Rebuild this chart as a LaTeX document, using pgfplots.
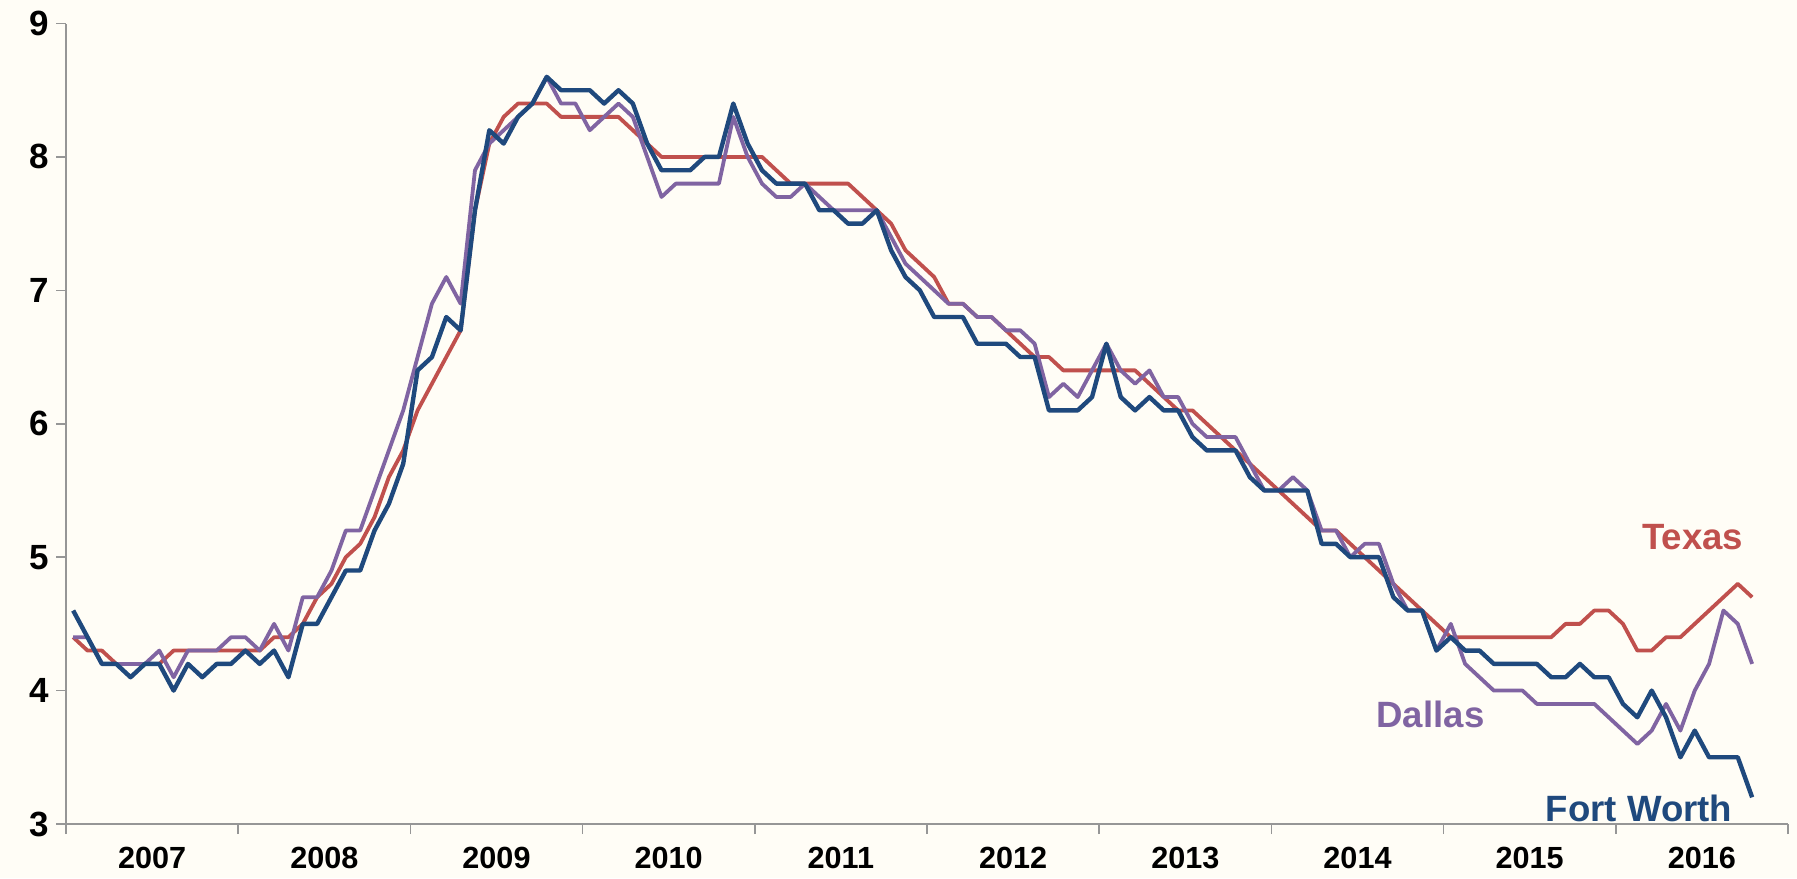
\documentclass[border=0pt]{standalone}
\usepackage{fontspec}
\setmainfont{Liberation Sans}
\usepackage{pgfplots}
\usepackage{pgfplotstable}
\pgfplotsset{compat=1.18}

\definecolor{bgc}{RGB}{255,253,246}
\definecolor{txred}{RGB}{192,80,77}
\definecolor{dapurple}{RGB}{128,100,162}
\definecolor{fwblue}{RGB}{31,73,125}
\definecolor{axisgray}{RGB}{150,150,150}

% monthly unemployment rate, Jan 2007 (m=0) to Oct 2016
\pgfplotstableread{
m tx da fw
0 4.4 4.4 4.6
1 4.3 4.4 4.4
2 4.3 4.2 4.2
3 4.2 4.2 4.2
4 4.2 4.2 4.1
5 4.2 4.2 4.2
6 4.2 4.3 4.2
7 4.3 4.1 4.0
8 4.3 4.3 4.2
9 4.3 4.3 4.1
10 4.3 4.3 4.2
11 4.3 4.4 4.2
12 4.3 4.4 4.3
13 4.3 4.3 4.2
14 4.4 4.5 4.3
15 4.4 4.3 4.1
16 4.5 4.7 4.5
17 4.7 4.7 4.5
18 4.8 4.9 4.7
19 5.0 5.2 4.9
20 5.1 5.2 4.9
21 5.3 5.5 5.2
22 5.6 5.8 5.4
23 5.8 6.1 5.7
24 6.1 6.5 6.4
25 6.3 6.9 6.5
26 6.5 7.1 6.8
27 6.7 6.9 6.7
28 7.6 7.9 7.6
29 8.1 8.1 8.2
30 8.3 8.2 8.1
31 8.4 8.3 8.3
32 8.4 8.4 8.4
33 8.4 8.6 8.6
34 8.3 8.4 8.5
35 8.3 8.4 8.5
36 8.3 8.2 8.5
37 8.3 8.3 8.4
38 8.3 8.4 8.5
39 8.2 8.3 8.4
40 8.1 8.0 8.1
41 8.0 7.7 7.9
42 8.0 7.8 7.9
43 8.0 7.8 7.9
44 8.0 7.8 8.0
45 8.0 7.8 8.0
46 8.0 8.3 8.4
47 8.0 8.0 8.1
48 8.0 7.8 7.9
49 7.9 7.7 7.8
50 7.8 7.7 7.8
51 7.8 7.8 7.8
52 7.8 7.7 7.6
53 7.8 7.6 7.6
54 7.8 7.6 7.5
55 7.7 7.6 7.5
56 7.6 7.6 7.6
57 7.5 7.4 7.3
58 7.3 7.2 7.1
59 7.2 7.1 7.0
60 7.1 7.0 6.8
61 6.9 6.9 6.8
62 6.9 6.9 6.8
63 6.8 6.8 6.6
64 6.8 6.8 6.6
65 6.7 6.7 6.6
66 6.6 6.7 6.5
67 6.5 6.6 6.5
68 6.5 6.2 6.1
69 6.4 6.3 6.1
70 6.4 6.2 6.1
71 6.4 6.4 6.2
72 6.4 6.6 6.6
73 6.4 6.4 6.2
74 6.4 6.3 6.1
75 6.3 6.4 6.2
76 6.2 6.2 6.1
77 6.1 6.2 6.1
78 6.1 6.0 5.9
79 6.0 5.9 5.8
80 5.9 5.9 5.8
81 5.8 5.9 5.8
82 5.7 5.7 5.6
83 5.6 5.5 5.5
84 5.5 5.5 5.5
85 5.4 5.6 5.5
86 5.3 5.5 5.5
87 5.2 5.2 5.1
88 5.2 5.2 5.1
89 5.1 5.0 5.0
90 5.0 5.1 5.0
91 4.9 5.1 5.0
92 4.8 4.8 4.7
93 4.7 4.6 4.6
94 4.6 4.6 4.6
95 4.5 4.3 4.3
96 4.4 4.5 4.4
97 4.4 4.2 4.3
98 4.4 4.1 4.3
99 4.4 4.0 4.2
100 4.4 4.0 4.2
101 4.4 4.0 4.2
102 4.4 3.9 4.2
103 4.4 3.9 4.1
104 4.5 3.9 4.1
105 4.5 3.9 4.2
106 4.6 3.9 4.1
107 4.6 3.8 4.1
108 4.5 3.7 3.9
109 4.3 3.6 3.8
110 4.3 3.7 4.0
111 4.4 3.9 3.8
112 4.4 3.7 3.5
113 4.5 4.0 3.7
114 4.6 4.2 3.5
115 4.7 4.6 3.5
116 4.8 4.5 3.5
117 4.7 4.2 3.2
}\rates

\begin{document}
\begin{tikzpicture}
% page background
\fill[bgc] (-33pt,-27pt) rectangle (865.5pt,412pt);
\begin{axis}[
    scale only axis,
    width=861pt, height=400.25pt,
    xmin=0, xmax=120, ymin=3, ymax=9,
    axis x line*=bottom, axis y line*=left,
    axis line style={-, draw=axisgray, line width=0.8pt},
    xtick={0,12,...,120},
    x tick label as interval,
    xticklabels={2007,2008,2009,2010,2011,2012,2013,2014,2015,2016},
    ytick={3,4,5,6,7,8,9},
    tick align=outside,
    major tick length=5pt,
    tick style={draw=axisgray, line width=0.8pt},
    /pgf/number format/assume math mode=true,
    yticklabel style={font=\fontsize{17.5}{20}\selectfont\bfseries},
    xticklabel style={font=\fontsize{15.3}{18}\selectfont\bfseries, yshift=-3pt},
    clip=false,
]
\addplot[txred, line width=1.9pt, line join=round] table[x expr=\thisrow{m}+0.5, y=tx] {\rates};
\addplot[dapurple, line width=1.9pt, line join=round] table[x expr=\thisrow{m}+0.5, y=da] {\rates};
\addplot[fwblue, line width=2.2pt, line join=round] table[x expr=\thisrow{m}+0.5, y=fw] {\rates};

\node[anchor=base west, inner sep=0pt, txred, font=\fontsize{18.3}{22}\selectfont\bfseries] at (axis cs:109.8,5.06) {Texas};
\node[anchor=base west, inner sep=0pt, dapurple, font=\fontsize{18.3}{22}\selectfont\bfseries] at (axis cs:91.3,3.72) {Dallas};
\node[anchor=base west, inner sep=0pt, fwblue, font=\fontsize{18.3}{22}\selectfont\bfseries] at (axis cs:103.1,3.02) {Fort Worth};
\end{axis}
\end{tikzpicture}
\end{document}
